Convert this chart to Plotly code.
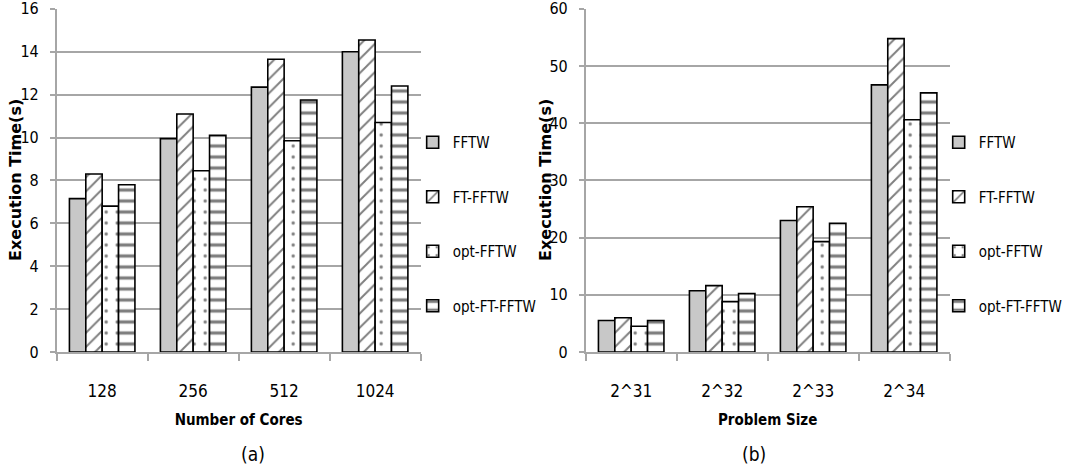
import plotly.graph_objects as go

cores = ["128", "256", "512", "1024"]
sizes = ["2^31", "2^32", "2^33", "2^34"]

series_names = ["FFTW", "FT-FFTW", "opt-FFTW", "opt-FT-FFTW"]

# execution times (s) vs number of cores
cores_fftw = [7.15, 9.95, 12.35, 14.0]
cores_ft_fftw = [8.3, 11.1, 13.65, 14.55]
cores_opt_fftw = [6.8, 8.45, 9.85, 10.7]
cores_opt_ft_fftw = [7.8, 10.1, 11.75, 12.4]

# execution times (s) vs problem size
size_fftw = [5.5, 10.7, 23.0, 46.7]
size_ft_fftw = [6.0, 11.6, 25.4, 54.8]
size_opt_fftw = [4.5, 8.8, 19.3, 40.6]
size_opt_ft_fftw = [5.5, 10.2, 22.5, 45.3]

cores_y_ticks = [0, 2, 4, 6, 8, 10, 12, 14, 16]
size_y_ticks = [0, 10, 20, 30, 40, 50, 60]

y_title = "Execution Time(s)"
panel_labels = ["(a)", "(b)"]

NARROW = "DejaVu Sans Condensed, Liberation Sans Narrow, sans-serif"
WIDE_BOLD = "DejaVu Sans, Verdana, sans-serif"
GRID = "#a6a6a6"

styles = [
    dict(color="#c8c8c8", pattern=dict(shape="")),
    dict(color="white", pattern=dict(shape="/", fgcolor="black", bgcolor="white", size=10, solidity=0.2)),
    dict(color="white", pattern=dict(shape=".", fgcolor="black", bgcolor="white", size=11, solidity=0.07)),
    dict(color="white", pattern=dict(shape="-", fgcolor="black", bgcolor="white", size=11, solidity=0.3)),
]

fig = go.Figure()

panels = [
    ("x", "y", "legend", cores, [cores_fftw, cores_ft_fftw, cores_opt_fftw, cores_opt_ft_fftw]),
    ("x2", "y2", "legend2", sizes, [size_fftw, size_ft_fftw, size_opt_fftw, size_opt_ft_fftw]),
]

for xa, ya, leg, cats, data in panels:
    for i, (name, vals) in enumerate(zip(series_names, data)):
        st = styles[i]
        fig.add_trace(go.Bar(
            x=cats, y=vals, name=name, xaxis=xa, yaxis=ya, legend=leg,
            legendgroup=f"{leg}-{i}",
            marker=dict(color=st["color"], pattern=st["pattern"],
                        line=dict(color="black", width=1.6)),
        ))

W, H = 1068, 476
top_px, bottom_px = 8.5, 352

def xdom(a, b):
    return [a / W, b / W]

ydom = [1 - bottom_px / H, 1 - top_px / H]

xtick_font = dict(family=NARROW, size=17, color="black")
ytick_font = dict(family=NARROW, size=16, color="black")
xtitle_font = dict(family=NARROW, size=15, color="black")
ytitle_font = dict(family=WIDE_BOLD, size=16, color="black")


def x_axis(domain, title, **kw):
    return dict(domain=domain, type="category", ticks="outside", tickson="boundaries",
                ticklen=7, tickcolor=GRID, tickwidth=1.5, ticklabelstandoff=23,
                showline=True, linecolor=GRID, linewidth=1.5, tickfont=xtick_font,
                automargin=False,
                title=dict(text=f"<b>{title}</b>", font=xtitle_font, standoff=14), **kw)


def y_axis(top, tickvals, **kw):
    return dict(domain=ydom, range=[0, top * 1.001], tickvals=tickvals, showgrid=True,
                gridcolor=GRID, gridwidth=2, ticks="outside", ticklen=5, tickcolor=GRID,
                tickwidth=1.5, zeroline=False, ticklabelstandoff=8, ticklabeloverflow="allow",
                showline=True, linecolor=GRID, linewidth=1.5, tickfont=ytick_font,
                automargin=False, **kw)


legend_style = dict(yanchor="top", xanchor="left", font=dict(family=NARROW, size=15),
                    tracegroupgap=32, bgcolor="rgba(0,0,0,0)")

annotations = []
for xc, label in zip([240, 772], panel_labels):
    annotations.append(dict(text=label, x=xc / W, y=1 - 454 / H, xref="paper", yref="paper",
                            yanchor="middle", showarrow=False,
                            font=dict(family=NARROW, size=19)))
for xc in [15, 548]:
    annotations.append(dict(text=f"<b>{y_title}</b>", x=xc / W, y=1 - 180 / H,
                            xref="paper", yref="paper", textangle=-90,
                            xanchor="center", yanchor="middle", showarrow=False,
                            font=ytitle_font))

fig.update_layout(
    width=W, height=H,
    margin=dict(l=0, r=0, t=0, b=0),
    paper_bgcolor="white", plot_bgcolor="white",
    barmode="group", bargap=0.28, bargroupgap=0,
    font=dict(family=NARROW, color="black"),
    xaxis=x_axis(xdom(57, 423), "Number of Cores"),
    yaxis=y_axis(16, cores_y_ticks),
    xaxis2=x_axis(xdom(589, 955), "Problem Size", anchor="y2"),
    yaxis2=y_axis(60, size_y_ticks, anchor="x2"),
    legend=dict(x=415 / W, y=1 - 126 / H, **legend_style),
    legend2=dict(x=944 / W, y=1 - 126 / H, **legend_style),
    annotations=annotations,
)

fig.write_html("out.html")
